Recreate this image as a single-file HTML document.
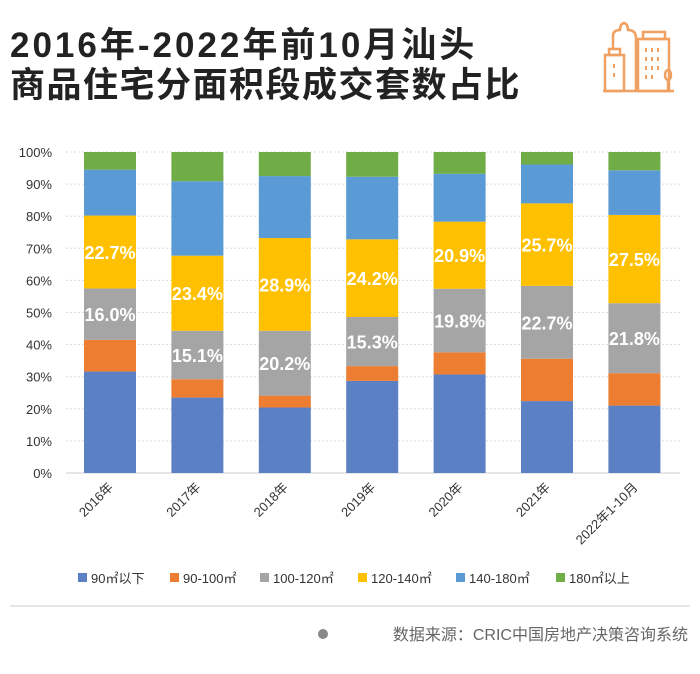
<!DOCTYPE html>
<html><head><meta charset="utf-8"><style>
body{margin:0;background:#fff;width:700px;height:669px;overflow:hidden;font-family:"Liberation Sans","Noto Sans CJK SC",sans-serif;}
</style></head><body>
<svg width="700" height="669" xmlns="http://www.w3.org/2000/svg">
<text x="10" y="57" font-size="35" font-weight="bold" fill="#222" letter-spacing="3" font-family="Liberation Sans,Noto Sans CJK SC,sans-serif">2016年-2022年前10月汕头</text>
<text x="10" y="97" font-size="35" font-weight="bold" fill="#222" letter-spacing="1.5" font-family="Liberation Sans,Noto Sans CJK SC,sans-serif">商品住宅分面积段成交套数占比</text>
<g fill="none" stroke="#f0a060" stroke-width="2.5">
<rect x="605" y="55" width="19" height="36"/><rect x="609" y="49" width="11" height="6"/>
<path d="M613 49 V36 Q613 30 620 30 Q620 24 624 23 Q628 24 628 30 Q636 30 636 38 V91"/>
<rect x="638" y="39" width="31" height="52"/><rect x="643" y="32" width="22" height="7"/>
<line x1="603" y1="91" x2="674" y2="91"/>
<ellipse cx="668" cy="75" rx="3" ry="5"/><line x1="668" y1="80" x2="668" y2="90"/>
<g stroke-width="2"><line x1="614" y1="64" x2="614" y2="68"/><line x1="614" y1="73" x2="614" y2="77"/>
<line x1="646" y1="48" x2="646" y2="52"/><line x1="652" y1="48" x2="652" y2="52"/><line x1="658" y1="48" x2="658" y2="52"/>
<line x1="646" y1="57" x2="646" y2="61"/><line x1="652" y1="57" x2="652" y2="61"/><line x1="658" y1="57" x2="658" y2="61"/>
<line x1="646" y1="66" x2="646" y2="70"/><line x1="652" y1="66" x2="652" y2="70"/><line x1="658" y1="66" x2="658" y2="70"/>
<line x1="646" y1="75" x2="646" y2="79"/><line x1="652" y1="75" x2="652" y2="79"/></g>
</g>
<g id="axes"></g><g id="bars"></g><g id="labels"></g><g id="legend"></g>
<line x1="10" y1="606" x2="690" y2="606" stroke="#ccc"/>
<circle cx="323" cy="634" r="5" fill="#888"/>
<text x="688" y="640" text-anchor="end" font-size="16" fill="#666">数据来源：CRIC中国房地产决策咨询系统</text>
</svg>
<script>
const categories=["2016年","2017年","2018年","2019年","2020年","2021年","2022年1-10月"];
const seriesNames=["90㎡以下","90-100㎡","100-120㎡","120-140㎡","140-180㎡","180㎡以上"];
const colors=["#5b81c4","#ed7d31","#a5a5a5","#ffc000","#5b9bd5","#70ad47"];
const s90=[31.6,23.5,20.4,28.7,30.7,22.4,21.0];
const s90_100=[9.9,5.7,3.7,4.6,6.9,13.2,10.1];
const s100_120=[16.0,15.1,20.2,15.3,19.8,22.7,21.8];
const s120_140=[22.7,23.4,28.9,24.2,20.9,25.7,27.5];
const s140_180=[14.3,23.2,19.3,19.5,14.9,12.1,13.9];
const s180=[5.5,9.1,7.5,7.7,6.8,3.9,5.7];
const series=[s90,s90_100,s100_120,s120_140,s140_180,s180];
const labeled=[2,3];
const yTicks=[0,10,20,30,40,50,60,70,80,90,100];
const NS="http://www.w3.org/2000/svg";
const y0=473,y1=152,x0=66,step=87.4,bw=52;
const y=v=>y0-(y0-y1)*v/100;
const xc=i=>x0+44+i*step;
function mk(t,a,p){const e=document.createElementNS(NS,t);for(const k in a)e.setAttribute(k,a[k]);document.getElementById(p).appendChild(e);return e;}
yTicks.forEach(v=>{
 const l=mk('line',{x1:x0,x2:680,y1:y(v),y2:y(v),stroke:v===0?'#ccc':'#ddd','stroke-dasharray':v===0?'':'2,2'},'axes');
 
 
 const t=mk('text',{x:52,y:y(v)+5,'text-anchor':'end','font-size':13,fill:'#333'},'axes');
 t.textContent=v+'%';
 
 
});
categories.forEach((c,i)=>{
 let cum=0;
 series.forEach((s,k)=>{
  const v=s[i];
  const r=mk('rect',{x:xc(i)-bw/2,y:y(cum+v),width:bw,height:y(cum)-y(cum+v),fill:colors[k]},'bars');
  
  
  if(labeled.includes(k)){
   const t=mk('text',{x:xc(i),y:(y(cum)+y(cum+v))/2+7,'text-anchor':'middle','font-size':18,fill:'#fff','font-weight':'bold'},'labels');
   t.textContent=v.toFixed(1)+'%';
   
   
  }
  cum+=v;
 });
 const t=mk('text',{x:xc(i)+4,y:488,'text-anchor':'end','font-size':13,fill:'#333',transform:`rotate(-45 ${xc(i)+4} 488)`},'labels');
 t.textContent=c;
 
 
});
const lx=[78,170,260,358,456,556];
seriesNames.forEach((n,k)=>{
 const r=mk('rect',{x:lx[k],y:573,width:9,height:9,fill:colors[k]},'legend');
 
 
 const t=mk('text',{x:lx[k]+13,y:583,'font-size':13,fill:'#333'},'legend');
 t.textContent=n;
 
 
});
</script>
</body></html>
